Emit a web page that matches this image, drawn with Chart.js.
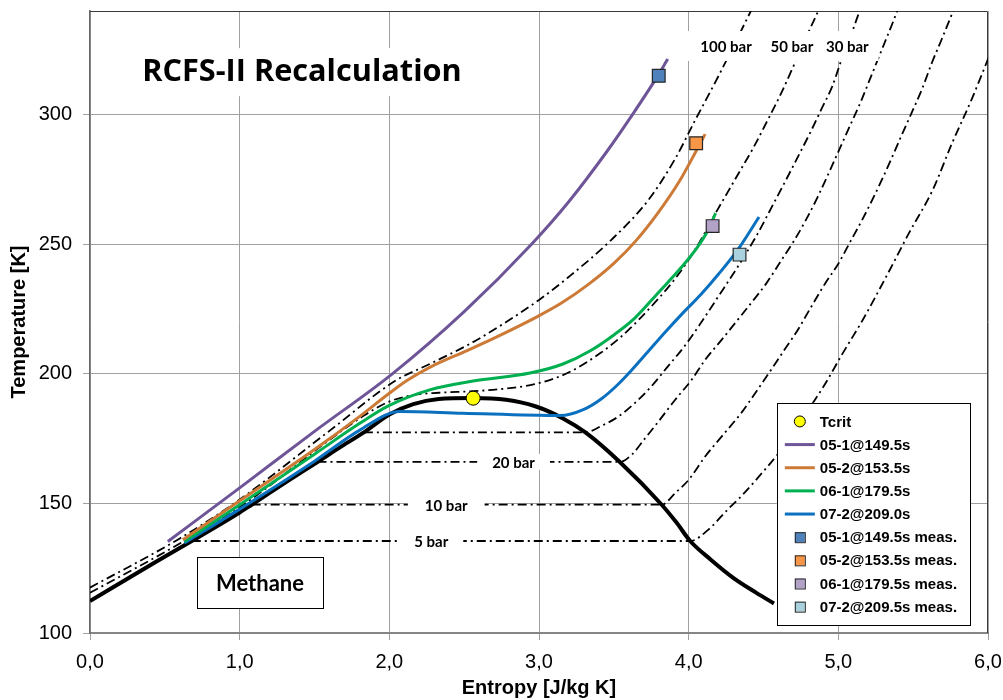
<!DOCTYPE html>
<html>
<head>
<meta charset="utf-8">
<title>RCFS-II Recalculation</title>
<script src="https://cdn.jsdelivr.net/npm/chart.js@4.4.1/dist/chart.umd.min.js"></script>
<style>
  html, body { margin: 0; padding: 0; background: #fff; }
</style>
</head>
<body>
<canvas id="tsChart" width="1003" height="700"></canvas>
<script>
// axis ticks
const xTickVals = [0, 1, 2, 3, 4, 5, 6];
const yTickVals = [100, 150, 200, 250, 300];

// saturation dome of methane [s, T]
const dome = [[0, 112.3], [0.43, 127.1], [0.68, 135.5], [1.0, 146.5], [1.08, 149.5], [1.32, 158.6],
  [1.52, 166], [1.68, 172], [1.83, 177.4], [2.0, 184.3], [2.16, 188.3], [2.33, 190.3], [2.56, 190.7],
  [2.78, 190], [2.98, 187.4], [3.16, 182.8], [3.31, 177.4], [3.54, 166], [3.82, 149.5], [3.92, 142.5],
  [4.01, 135.5], [4.15, 128.2], [4.30, 121.2], [4.45, 115.6], [4.57, 111.4]];

// isobars
const p5 = [[0.68, 135.5], [4.01, 135.5], [4.13, 139.8], [4.26, 147.6], [4.35, 152.7], [4.47, 160.4],
  [4.60, 169.4], [4.75, 182], [4.90, 195], [5.03, 208], [5.16, 220.5], [5.33, 238.6], [5.47, 254.1],
  [5.63, 270.9], [5.76, 289], [5.89, 305.8], [5.99, 320], [6.06, 330]];
const p10 = [[1.08, 149.5], [3.82, 149.5], [3.91, 154], [4.0, 159.1], [4.11, 168.1], [4.22, 175.8],
  [4.35, 184.8], [4.45, 193], [4.55, 201.5], [4.64, 209.3], [4.73, 217], [4.80, 224], [4.91, 234.7],
  [5.0, 242.5], [5.08, 251], [5.16, 259.5], [5.23, 267.5], [5.30, 276], [5.37, 285], [5.43, 293],
  [5.50, 302], [5.56, 310], [5.625, 320], [5.69, 329], [5.76, 339], [5.78, 342]];
const p20 = [[1.52, 166], [3.54, 166], [3.62, 168.8], [3.70, 174.5], [3.79, 181], [3.91, 190],
  [4.02, 197.7], [4.11, 205.4], [4.22, 213.1], [4.33, 221], [4.42, 227.5], [4.52, 235], [4.61, 243],
  [4.70, 251], [4.78, 259], [4.86, 268], [4.94, 278], [5.01, 287], [5.08, 296], [5.15, 305],
  [5.22, 315], [5.29, 325], [5.36, 335], [5.40, 341]];
const p30 = [[1.83, 177.4], [3.31, 177.4], [3.41, 179.7], [3.53, 183.5], [3.64, 188.7], [3.75, 195.1],
  [3.86, 202.8], [3.97, 210.5], [4.08, 219.5], [4.20, 230], [4.33, 241.5], [4.46, 254], [4.57, 266],
  [4.67, 277], [4.75, 286], [4.82, 294], [4.89, 302.5], [4.96, 311], [5.02, 321], [5.08, 330], [5.145, 340.5]];
const p50 = [[0, 115.5], [0.6, 134.5], [1.0, 148.5], [1.6, 174.5], [1.82, 183.5], [2.0, 189.3],
  [2.16, 191.8], [2.33, 192.7], [2.56, 193.3], [2.74, 194.1], [2.97, 196], [3.19, 200.3], [3.41, 208],
  [3.55, 214.4], [3.66, 220.5], [3.79, 228.5], [3.90, 236], [4.0, 244], [4.09, 252.5], [4.17, 261],
  [4.26, 270], [4.35, 279], [4.43, 287], [4.52, 297], [4.62, 308.5], [4.71, 320], [4.79, 330.5], [4.87, 340.5]];
const p100 = [[0, 117.5], [0.6, 136.5], [1.0, 151.5], [1.6, 178], [2.04, 197.3], [2.27, 203.8],
  [2.53, 211.3], [2.74, 218.5], [3.0, 228.5], [3.19, 237], [3.48, 251.5], [3.73, 267], [3.91, 283],
  [4.04, 297.5], [4.20, 315], [4.33, 330], [4.42, 340.5]];

// recalculated runs
const run051 = [[0.52, 135.3], [1.0, 156], [1.5, 177.8], [2.02, 200], [2.5, 224], [2.95, 250],
  [3.2, 266.5], [3.45, 285.5], [3.63, 300.5], [3.81, 316.5], [3.86, 321.5]];
const run052 = [[0.62, 136], [1.0, 151], [1.5, 170.8], [1.8, 183.5], [2.0, 192.5], [2.12, 197.5],
  [2.27, 202.5], [2.5, 208.5], [2.69, 213.5], [2.97, 221.5], [3.15, 227.3], [3.33, 234.5],
  [3.5, 242.6], [3.65, 251.5], [3.8, 262.5], [3.94, 274.5], [4.05, 286], [4.11, 292.5]];
const run061 = [[0.63, 135.3], [1.0, 149.5], [1.5, 169], [1.8, 180.8], [2.0, 187.8], [2.27, 193.8],
  [2.56, 197.2], [2.94, 200.3], [3.16, 203.8], [3.34, 208.8], [3.5, 215], [3.64, 221.5], [3.8, 231.5],
  [3.95, 241], [4.06, 249], [4.13, 255.5], [4.18, 262]];
const run072 = [[0.63, 134.7], [1.0, 147.8], [1.5, 166.3], [1.8, 178.2], [2.07, 185.5], [2.49, 184.8],
  [3.14, 183.9], [3.3, 186.3], [3.42, 190.5], [3.52, 195.5], [3.62, 201.5], [3.72, 208], [3.85, 216.5],
  [3.97, 224], [4.08, 230.5], [4.2, 238.5], [4.33, 248], [4.47, 260.5]];

// measured end points and critical point
const meas051 = [[3.80, 315]];
const meas052 = [[4.05, 289]];
const meas061 = [[4.16, 257]];
const meas072 = [[4.34, 246]];
const tcrit = [[2.56, 190.6]];

const FONT = "'Liberation Sans', Arial, sans-serif";
const toXY = pts => pts.map(p => ({ x: p[0], y: p[1] }));

function curve(label, pts, color, width, order, legend) {
  return {
    label, data: toXY(pts), showLine: true, borderColor: color, backgroundColor: color,
    borderWidth: width, pointRadius: 0, fill: false, cubicInterpolationMode: 'monotone',
    order, inLegend: legend, legendKind: 'line'
  };
}
function isobar(label, pts) {
  return {
    label, data: toXY(pts), showLine: true, borderColor: '#000', borderWidth: 1.8,
    borderDash: [9, 4, 2, 4], pointRadius: 0, fill: false, cubicInterpolationMode: 'monotone',
    order: 4, inLegend: false
  };
}
function marker(label, pts, fill) {
  return {
    label, data: toXY(pts), showLine: false, pointStyle: 'rect', pointRadius: 9,
    backgroundColor: fill, borderColor: '#262626', borderWidth: 1.2, order: 1,
    inLegend: true, legendKind: 'square'
  };
}

const datasets = [
  { label: 'Tcrit', data: toXY(tcrit), showLine: false, pointStyle: 'circle', pointRadius: 7,
    backgroundColor: '#FFFF00', borderColor: '#000', borderWidth: 1, order: 0,
    inLegend: true, legendKind: 'circle' },
  curve('05-1@149.5s', run051, '#6E5597', 3, 2, true),
  curve('05-2@153.5s', run052, '#CC7A36', 3, 2, true),
  curve('06-1@179.5s', run061, '#00B050', 3, 2, true),
  curve('07-2@209.0s', run072, '#0A70BF', 3, 2, true),
  marker('05-1@149.5s meas.', meas051, '#4F81BD'),
  marker('05-2@153.5s meas.', meas052, '#F79646'),
  marker('06-1@179.5s meas.', meas061, '#B3A2C7'),
  marker('07-2@209.5s meas.', meas072, '#A9D2DE'),
  curve('saturation', dome, '#000', 4, 3, false),
  isobar('5 bar', p5),
  isobar('10 bar', p10),
  isobar('20 bar', p20),
  isobar('30 bar', p30),
  isobar('50 bar', p50),
  isobar('100 bar', p100)
];

const decor = {
  id: 'decor',
  beforeDatasetsDraw(chart) {
    const { ctx, chartArea: a } = chart;
    ctx.save();
    ctx.strokeStyle = '#3a3a3a';
    ctx.lineWidth = 1;
    ctx.beginPath();
    ctx.moveTo(a.left, a.top + 0.5);
    ctx.lineTo(a.right - 0.5, a.top + 0.5);
    ctx.lineTo(a.right - 0.5, a.bottom);
    ctx.stroke();
    ctx.restore();
  },
  afterDatasetsDraw(chart, args, opts) {
    const { ctx, scales: { x, y } } = chart;
    ctx.save();
    ctx.textAlign = 'center';
    ctx.textBaseline = 'middle';

    // pressure labels on white boxes
    ctx.font = 'bold 15px Lato';
    opts.isobarLabels.forEach(l => {
      const px = x.getPixelForValue(l.s), py = y.getPixelForValue(l.t);
      const w = ctx.measureText(l.text).width;
      ctx.fillStyle = '#fff';
      ctx.fillRect(px - w / 2 - l.padX, py - l.padY, w + 2 * l.padX, 2 * l.padY);
      ctx.fillStyle = '#000';
      ctx.fillText(l.text, px, py + 1);
    });

    // title, sized to the reference text width
    const t = opts.title;
    ctx.font = 'bold 28px "Open Sans"';
    const fs = 28 * t.width / ctx.measureText(t.text).width;
    ctx.font = 'bold ' + fs.toFixed(1) + 'px "Open Sans"';
    const tw = ctx.measureText(t.text).width;
    const tx = x.getPixelForValue(t.s), ty = y.getPixelForValue(t.t);
    ctx.fillStyle = '#fff';
    ctx.fillRect(tx - tw / 2 - 16, ty - 24, tw + 32, 48);
    ctx.fillStyle = '#000';
    ctx.fillText(t.text, tx, ty);

    // substance box
    const m = opts.substance;
    const x0 = x.getPixelForValue(m.s0), x1 = x.getPixelForValue(m.s1);
    const y0 = y.getPixelForValue(m.t0), y1 = y.getPixelForValue(m.t1);
    ctx.fillStyle = '#fff';
    ctx.fillRect(x0, y0, x1 - x0, y1 - y0);
    ctx.strokeStyle = '#000';
    ctx.lineWidth = 1;
    ctx.strokeRect(Math.round(x0) + 0.5, Math.round(y0) + 0.5, Math.round(x1 - x0), Math.round(y1 - y0));
    ctx.font = 'bold 22px Lato';
    ctx.fillStyle = '#000';
    ctx.fillText(m.text, (x0 + x1) / 2, (y0 + y1) / 2 + 1);

    // legend
    const L = opts.legend;
    const lx0 = x.getPixelForValue(L.s0), lx1 = x.getPixelForValue(L.s1);
    const ly0 = y.getPixelForValue(L.t0), ly1 = y.getPixelForValue(L.t1);
    ctx.fillStyle = '#fff';
    ctx.fillRect(lx0, ly0, lx1 - lx0, ly1 - ly0);
    ctx.strokeStyle = '#000';
    ctx.strokeRect(Math.round(lx0) + 0.5, Math.round(ly0) + 0.5, Math.round(lx1 - lx0), Math.round(ly1 - ly0));
    const items = chart.data.datasets.filter(d => d.inLegend);
    const rowH = (ly1 - ly0 - 14) / items.length;
    ctx.textAlign = 'left';
    ctx.font = 'bold 15px ' + FONT;
    items.forEach((d, i) => {
      const cy = ly0 + 7 + rowH * (i + 0.5);
      const cx = lx0 + 23;
      if (d.legendKind === 'line') {
        ctx.strokeStyle = d.borderColor;
        ctx.lineWidth = 3;
        ctx.beginPath();
        ctx.moveTo(lx0 + 8, cy);
        ctx.lineTo(lx0 + 38, cy);
        ctx.stroke();
      } else if (d.legendKind === 'square') {
        ctx.fillStyle = d.backgroundColor;
        ctx.fillRect(cx - 5, cy - 5, 10, 10);
        ctx.strokeStyle = '#262626';
        ctx.lineWidth = 1;
        ctx.strokeRect(cx - 5 + 0.5, cy - 5 + 0.5, 10, 10);
      } else {
        ctx.fillStyle = d.backgroundColor;
        ctx.beginPath();
        ctx.arc(cx, cy, 5.5, 0, Math.PI * 2);
        ctx.fill();
        ctx.strokeStyle = '#000';
        ctx.lineWidth = 1;
        ctx.stroke();
      }
      ctx.fillStyle = '#000';
      ctx.fillText(d.label, lx0 + 43, cy + 1);
    });
    ctx.restore();
  }
};

new Chart(document.getElementById('tsChart'), {
  type: 'scatter',
  data: { datasets },
  plugins: [decor],
  options: {
    responsive: false,
    animation: false,
    events: [],
    layout: { padding: { top: 11, right: 15, left: 0, bottom: 0 } },
    plugins: {
      legend: { display: false },
      tooltip: { enabled: false },
      decor: {
        isobarLabels: [
          { text: '100 bar', s: 4.25, t: 326.5, padX: 14, padY: 15 },
          { text: '50 bar', s: 4.69, t: 326.5, padX: 10, padY: 15 },
          { text: '30 bar', s: 5.06, t: 326.5, padX: 10, padY: 15 },
          { text: '20 bar', s: 2.83, t: 166, padX: 15, padY: 8 },
          { text: '10 bar', s: 2.38, t: 149.5, padX: 17, padY: 8 },
          { text: '5 bar', s: 2.28, t: 135.5, padX: 15, padY: 8 }
        ],
        title: { text: 'RCFS-II Recalculation', s: 1.416, t: 316.4, width: 320 },
        substance: { text: 'Methane', s0: 0.714, s1: 1.557, t0: 129.3, t1: 109.6 },
        legend: { s0: 4.589, s1: 5.879, t0: 188.8, t1: 103.0 }
      }
    },
    scales: {
      x: {
        type: 'linear', min: 0, max: 6,
        afterBuildTicks: s => { s.ticks = xTickVals.map(v => ({ value: v })); },
        afterFit: s => { s.height = 67; s.paddingLeft = 0; s.paddingRight = 0; },
        ticks: {
          color: '#000', padding: 10, font: { family: FONT, size: 20 },
          callback: v => v.toFixed(1).replace('.', ',')
        },
        grid: { color: '#a0a0a0', lineWidth: 1, tickLength: 7 },
        border: { color: '#868686', width: 2 },
        title: {
          display: true, text: 'Entropy [J/kg K]', color: '#000',
          font: { family: FONT, size: 20, weight: 'bold' }, padding: { top: 0, bottom: 0 }
        }
      },
      y: {
        type: 'linear', min: 100, max: 340,
        afterBuildTicks: s => { s.ticks = yTickVals.map(v => ({ value: v })); },
        afterFit: s => { s.width = 90; s.paddingTop = 0; s.paddingBottom = 0; },
        ticks: { color: '#000', padding: 11, font: { family: FONT, size: 20 } },
        grid: { color: '#a0a0a0', lineWidth: 1, tickLength: 7 },
        border: { color: '#6a6a6a', width: 1.5 },
        title: {
          display: true, text: 'Temperature [K]', color: '#000',
          font: { family: FONT, size: 20, weight: 'bold' }, padding: { top: 7, bottom: 0 }
        }
      }
    }
  }
});
</script>
</body>
</html>
